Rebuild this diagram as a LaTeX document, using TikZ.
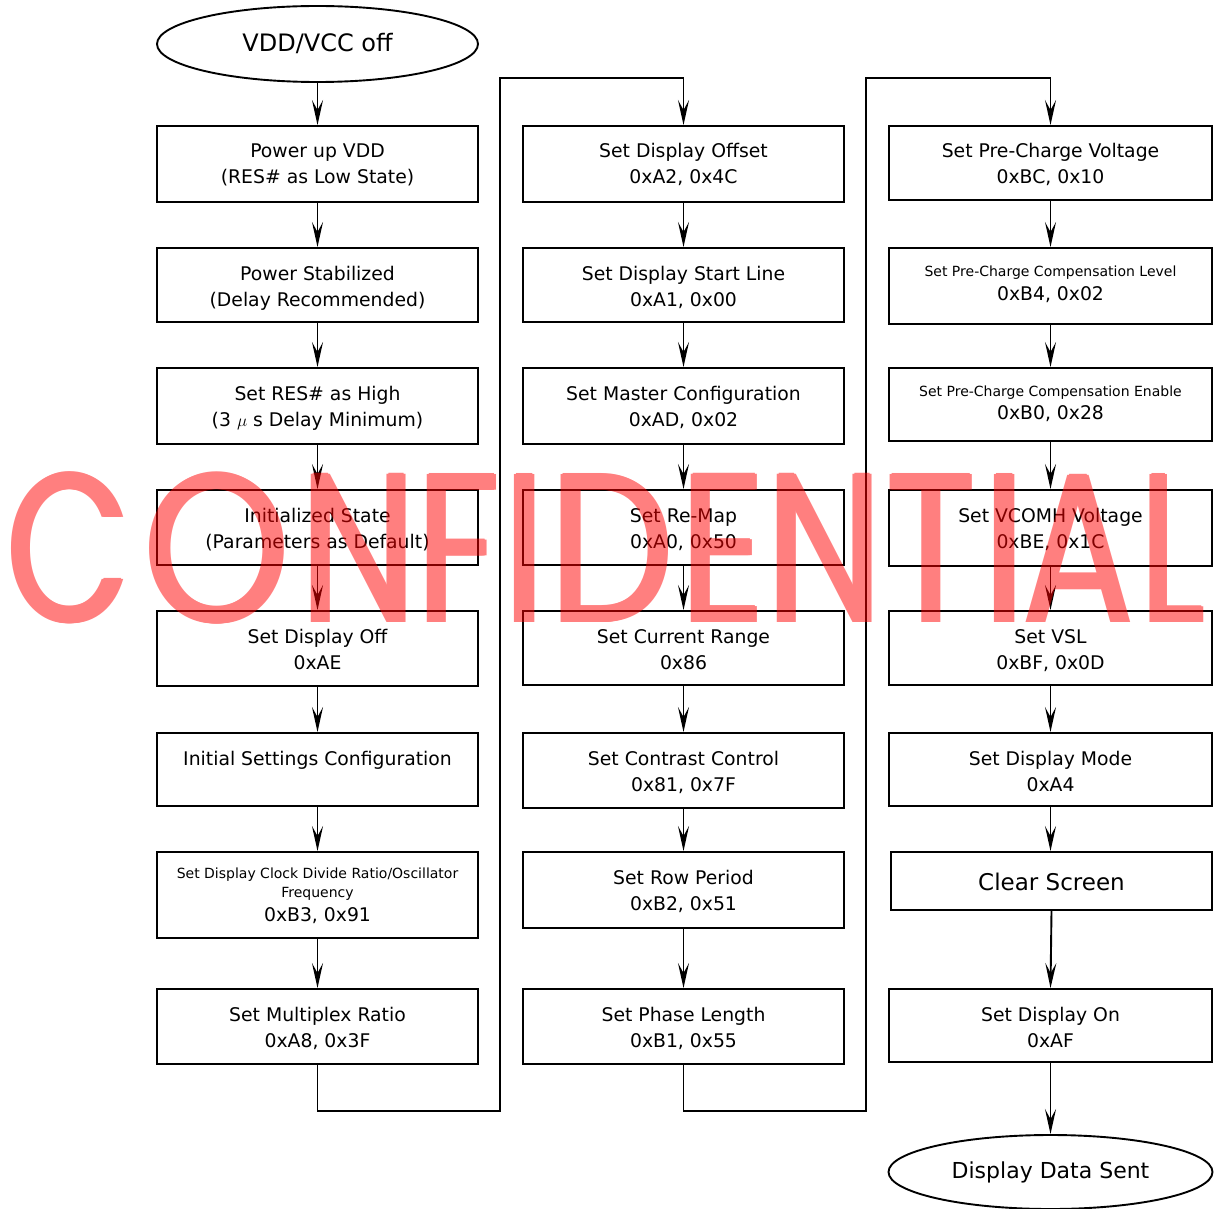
\documentclass[tikz,border=0pt]{standalone}
\usepackage{fontspec}
\usepackage{graphicx}
\setmainfont{DejaVu Sans}
\newfontfamily\wmfont{Poppins}
\usetikzlibrary{arrows.meta,shapes.geometric}
\newcommand\fmain{\fontsize{18.8}{22}\selectfont}
\newcommand\fsmall{\fontsize{14}{17}\selectfont}
\newcommand\fclear{\fontsize{23}{26}\selectfont}
\newcommand\fterma{\fontsize{24}{28}\selectfont}
\newcommand\ftermb{\fontsize{22}{26}\selectfont}
\newsavebox\wmbox
\newcommand\wml[2][0.8]{\sbox\wmbox{\scalebox{#1}[1]{\resizebox{!}{148pt}{\wmfont\vphantom{H}\smash{#2}}}}%
  \rlap{\kern-2pt\usebox\wmbox}\rlap{\kern2pt\usebox\wmbox}\rlap{\raise1pt\hbox{\usebox\wmbox}}\rlap{\lower1pt\hbox{\usebox\wmbox}}\usebox\wmbox}
\tikzset{
  box/.style={draw, line width=1.9pt, rectangle, inner sep=0pt, minimum width=321pt},
  term/.style={draw, line width=1.9pt, ellipse, inner sep=0pt},
  txt/.style={anchor=base, inner sep=0pt, font=\fmain},
  stxt/.style={anchor=base, inner sep=0pt, font=\fsmall},
  flow/.style={line width=1.9pt, -{Stealth[length=25pt,width=11pt,inset=10pt]}},
  wm/.style={anchor=base, inner sep=0pt, text=red},
}
\begin{document}
\begin{tikzpicture}[x=1pt,y=-1pt]
\useasboundingbox (0,0) rectangle (1215,1209);

% ---------- column 1
\node[term, minimum width=321pt, minimum height=76pt] (e1) at (317.5,44) {};
\node[anchor=base, inner sep=0pt, font=\fterma] (e1t) at (317.5,52) {VDD/VCC off};

\node[box, minimum height=76pt] (p1) at (317.5,164) {};
\node[txt] (p1a) at (317.5,158) {Power up VDD};
\node[txt] (p1b) at (317.5,184) {(RES\# as Low State)};

\node[box, minimum height=74pt] (p2) at (317.5,285) {};
\node[txt] (p2a) at (317.5,280) {Power Stabilized};
\node[txt] (p2b) at (317.5,306) {(Delay Recommended)};

\node[box, minimum height=76pt] (p3) at (317.5,406) {};
\node[txt] (p3a) at (317.5,400) {Set RES\# as High};
\node[txt] (p3b) at (317.5,426) {(3 $\mu$ s Delay Minimum)};

\node[box, minimum height=75pt] (p4) at (317.5,527.5) {};
\node[txt] (p4a) at (317.5,522) {Initialized State};
\node[txt] (p4b) at (317.5,548) {(Parameters as Default)};

\node[box, minimum height=75pt] (p5) at (317.5,648.5) {};
\node[txt] (p5a) at (317.5,643) {Set Display Off};
\node[txt] (p5b) at (317.5,669) {0xAE};

\node[box, minimum height=73pt] (p6) at (317.5,769.5) {};
\node[txt] (p6a) at (317.5,765) {Initial Settings Configuration};

\node[box, minimum height=86pt] (p7) at (317.5,895) {};
\node[stxt] (p7a) at (317.5,878) {Set Display Clock Divide Ratio/Oscillator};
\node[stxt] (p7b) at (317.5,897) {Frequency};
\node[txt] (p7c) at (317.5,921) {0xB3, 0x91};

\node[box, minimum height=75pt] (p8) at (317.5,1026.5) {};
\node[txt] (p8a) at (317.5,1021) {Set Multiplex Ratio};
\node[txt] (p8b) at (317.5,1047) {0xA8, 0x3F};

% ---------- column 2
\node[box, minimum height=76pt] (q1) at (683.5,164) {};
\node[txt] (q1a) at (683.5,158) {Set Display Offset};
\node[txt] (q1b) at (683.5,184) {0xA2, 0x4C};

\node[box, minimum height=74pt] (q2) at (683.5,285) {};
\node[txt] (q2a) at (683.5,280) {Set Display Start Line};
\node[txt] (q2b) at (683.5,306) {0xA1, 0x00};

\node[box, minimum height=76pt] (q3) at (683.5,406) {};
\node[txt] (q3a) at (683.5,400) {Set Master Configuration};
\node[txt] (q3b) at (683.5,426) {0xAD, 0x02};

\node[box, minimum height=75pt] (q4) at (683.5,527.5) {};
\node[txt] (q4a) at (683.5,522) {Set Re-Map};
\node[txt] (q4b) at (683.5,548) {0xA0, 0x50};

\node[box, minimum height=74pt] (q5) at (683.5,648) {};
\node[txt] (q5a) at (683.5,643) {Set Current Range};
\node[txt] (q5b) at (683.5,669) {0x86};

\node[box, minimum height=75pt] (q6) at (683.5,770.5) {};
\node[txt] (q6a) at (683.5,765) {Set Contrast Control};
\node[txt] (q6b) at (683.5,791) {0x81, 0x7F};

\node[box, minimum height=76pt] (q7) at (683.5,890) {};
\node[txt] (q7a) at (683.5,884) {Set Row Period};
\node[txt] (q7b) at (683.5,910) {0xB2, 0x51};

\node[box, minimum height=75pt] (q8) at (683.5,1026.5) {};
\node[txt] (q8a) at (683.5,1021) {Set Phase Length};
\node[txt] (q8b) at (683.5,1047) {0xB1, 0x55};

% ---------- column 3
\node[box, minimum width=323pt, minimum height=74pt] (r1) at (1050.5,163) {};
\node[txt] (r1a) at (1050.5,158) {Set Pre-Charge Voltage};
\node[txt] (r1b) at (1050.5,184) {0xBC, 0x10};

\node[box, minimum width=323pt, minimum height=76pt] (r2) at (1050.5,286) {};
\node[stxt] (r2a) at (1050.5,276) {Set Pre-Charge Compensation Level};
\node[txt] (r2b) at (1050.5,300) {0xB4, 0x02};

\node[box, minimum width=323pt, minimum height=73pt] (r3) at (1050.5,404.5) {};
\node[stxt] (r3a) at (1050.5,396) {Set Pre-Charge Compensation Enable};
\node[txt] (r3b) at (1050.5,419) {0xB0, 0x28};

\node[box, minimum width=323pt, minimum height=76pt] (r4) at (1050.5,528) {};
\node[txt] (r4a) at (1050.5,522) {Set VCOMH Voltage};
\node[txt] (r4b) at (1050.5,548) {0xBE, 0x1C};

\node[box, minimum width=323pt, minimum height=74pt] (r5) at (1050.5,648) {};
\node[txt] (r5a) at (1050.5,643) {Set VSL};
\node[txt] (r5b) at (1050.5,669) {0xBF, 0x0D};

\node[box, minimum width=323pt, minimum height=73pt] (r6) at (1050.5,769.5) {};
\node[txt] (r6a) at (1050.5,765) {Set Display Mode};
\node[txt] (r6b) at (1050.5,791) {0xA4};

\node[box, minimum width=321pt, minimum height=58pt] (r7) at (1051.5,881) {};
\node[anchor=base, inner sep=0pt, font=\fclear] (r7a) at (1051.5,890) {Clear Screen};

\node[box, minimum width=323pt, minimum height=73pt] (r8) at (1050.5,1025.5) {};
\node[txt] (r8a) at (1050.5,1021) {Set Display On};
\node[txt] (r8b) at (1050.5,1047) {0xAF};

\node[term, minimum width=324pt, minimum height=74pt] (e2) at (1050.5,1172) {};
\node[anchor=base, inner sep=0pt, font=\ftermb] (e2t) at (1050.5,1178) {Display Data Sent};

% ---------- connectors
\draw[flow] (e1) -- (p1);
\draw[flow] (p1) -- (p2);
\draw[flow] (p2) -- (p3);
\draw[flow] (p3) -- (p4);
\draw[flow] (p4) -- (p5);
\draw[flow] (p5) -- (p6);
\draw[flow] (p6) -- (p7);
\draw[flow] (p7) -- (p8);

\draw[flow] (q1) -- (q2);
\draw[flow] (q2) -- (q3);
\draw[flow] (q3) -- (q4);
\draw[flow] (q4) -- (q5);
\draw[flow] (q5) -- (q6);
\draw[flow] (q6) -- (q7);
\draw[flow] (q7) -- (q8);

\draw[flow] (r1) -- (r2);
\draw[flow] (r2) -- (r3);
\draw[flow] (r3) -- (r4);
\draw[flow] (r4) -- (r5);
\draw[flow] (r5) -- (r6);
\draw[flow] (r6.south) -- (r7.north -| r6.south);
\draw[flow] (r7.south) -- (r8.north);
\draw[flow] (r8) -- (e2);

\coordinate (j1) at (500,1111);
\coordinate (j2) at (500,78);
\coordinate (k1) at (866,1111);
\coordinate (k2) at (866,78);
\draw[flow] (p8.south) |- (j1) -- (j2) -| (q1.north);
\draw[flow] (q8.south) |- (k1) -- (k2) -| (r1.north);

% ---------- watermark
\begin{scope}[transparency group, opacity=0.5]
\node[wm] (wm1) at (69,622) {\wml[0.76]{C}};
\node[wm] (wm2) at (217,622) {\wml[0.88]{O}};
\node[wm] (wm3) at (359,622) {\wml[0.78]{N}};
\node[wm] (wm4) at (458,622) {\wml[0.78]{F}};
\node[wm] (wm5) at (525,622) {\wml[0.85]{I}};
\node[wm] (wm6) at (612,622) {\wml[0.83]{D}};
\node[wm] (wm7) at (723,622) {\wml[0.78]{E}};
\node[wm] (wm8) at (825,622) {\wml[0.78]{N}};
\node[wm] (wm9) at (931,622) {\wml[0.78]{T}};
\node[wm] (wm10) at (1005,622) {\wml[0.85]{I}};
\node[wm] (wm11) at (1078,622) {\wml[0.78]{A}};
\node[wm] (wm12) at (1173,622) {\wml[0.7]{L}};
\end{scope}
\end{tikzpicture}
\end{document}
